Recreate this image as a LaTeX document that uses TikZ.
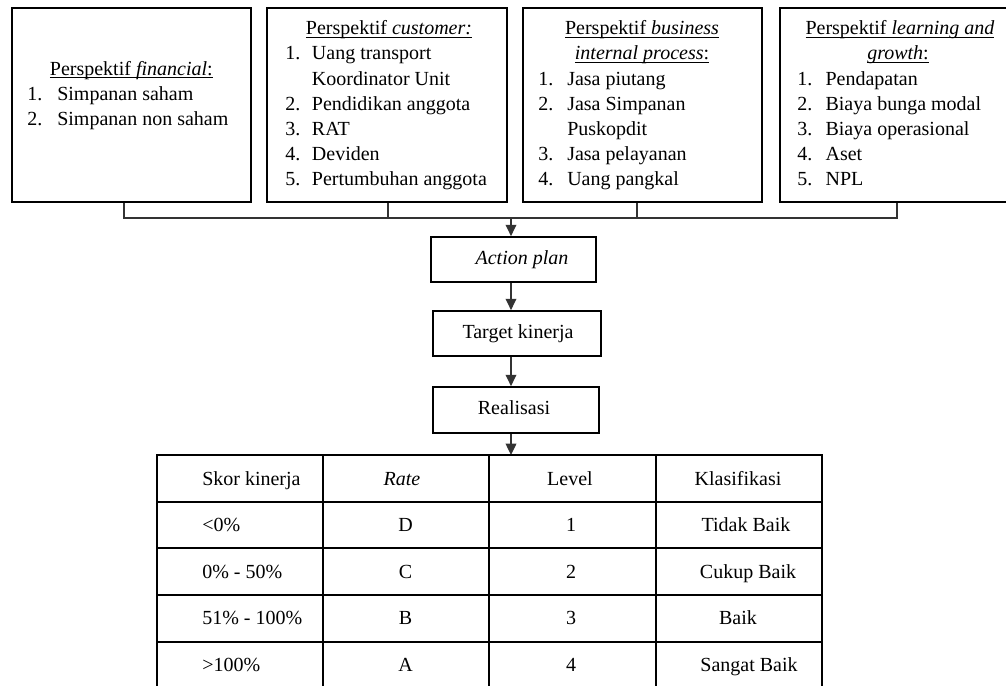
\documentclass[tikz,border=0pt]{standalone}
\usepackage{fontspec}
\setmainfont{Liberation Serif}
\usetikzlibrary{arrows.meta}
\newcommand\ulx[1]{\setbox0\hbox{#1}\rlap{\rule[-2pt]{\wd0}{0.8pt}}\box0}
\newcommand\nm[2]{\makebox[#1][l]{#2}}
\begin{document}
\begin{tikzpicture}[x=0.75pt,y=-0.75pt,
  box/.style={draw,line width=1.3pt,inner sep=0pt},
  tx/.style={inner sep=0pt,font=\fontsize{15}{18.75}\selectfont},
  lt/.style={tx,anchor=base west},
  ct/.style={tx,anchor=base},
  conn/.style={line width=1pt,draw=black!80},
  arr/.style={conn,-{Triangle[width=8pt,length=8.5pt]}},
  tab/.style={line width=1.8pt}]
\clip (0,0) rectangle (1006,685);
\useasboundingbox (0,0) rectangle (1006,685);

% perspective boxes
\node[box,minimum width=179.25pt,minimum height=145.5pt] (b1) at (131.5,105) {};
\node[box,minimum width=180pt,minimum height=145.5pt] (b2) at (387,105) {};
\node[box,minimum width=179.25pt,minimum height=145.5pt] (b3) at (642.5,105) {};
\node[box,minimum width=175.5pt,minimum height=145.5pt] (b4) at (897,105) {};

% box 1
\node[ct] (t1) at (131.3,75) {\ulx{Perspektif \textit{financial}:}};
\node[lt] (l11) at (27,100) {\nm{22.5pt}{1.}Simpanan saham};
\node[lt] (l12) at (27,125) {\nm{22.5pt}{2.}Simpanan non saham};

% box 2
\node[ct] (t2) at (389,35) {\ulx{Perspektif \textit{customer:}}};
\node[lt] (l21) at (285,60) {\nm{20pt}{1.}Uang transport};
\node[lt] (l22) at (285,85) {\nm{20pt}{}Koordinator Unit};
\node[lt] (l23) at (285,110) {\nm{20pt}{2.}Pendidikan anggota};
\node[lt] (l24) at (285,135) {\nm{20pt}{3.}RAT};
\node[lt] (l25) at (285,160) {\nm{20pt}{4.}Deviden};
\node[lt] (l26) at (285,185) {\nm{20pt}{5.}Pertumbuhan anggota};

% box 3
\node[ct] (t3a) at (642,35) {\ulx{Perspektif \textit{business}}};
\node[ct] (t3b) at (642,60) {\ulx{\textit{internal process}:}};
\node[lt] (l31) at (538,85) {\nm{21.75pt}{1.}Jasa piutang};
\node[lt] (l32) at (538,110) {\nm{21.75pt}{2.}Jasa Simpanan};
\node[lt] (l33) at (538,135) {\nm{21.75pt}{}Puskopdit};
\node[lt] (l34) at (538,160) {\nm{21.75pt}{3.}Jasa pelayanan};
\node[lt] (l35) at (538,185) {\nm{21.75pt}{4.}Uang pangkal};

% box 4
\node[ct] (t4a) at (900,35) {\ulx{Perspektif \textit{learning and}}};
\node[ct] (t4b) at (898,60) {\ulx{\textit{growth}:}};
\node[lt] (l41) at (797,85) {\nm{21.25pt}{1.}Pendapatan};
\node[lt] (l42) at (797,110) {\nm{21.25pt}{2.}Biaya bunga modal};
\node[lt] (l43) at (797,135) {\nm{21.25pt}{3.}Biaya operasional};
\node[lt] (l44) at (797,160) {\nm{21.25pt}{4.}Aset};
\node[lt] (l45) at (797,185) {\nm{21.25pt}{5.}NPL};

% flow boxes
\node[box,minimum width=123.75pt,minimum height=33.75pt] (ap) at (513.5,259.5) {};
\node[ct] (apt) at (522,264.7) {\textit{Action plan}};
\node[box,minimum width=126pt,minimum height=33.75pt] (tk) at (517,333.5) {};
\node[ct] (tkt) at (518,338) {Target kinerja};
\node[box,minimum width=124.5pt,minimum height=34.5pt] (re) at (516,410) {};
\node[ct] (ret) at (514,414.7) {Realisasi};

% connectors
\coordinate (s1) at (124,0);
\coordinate (s2) at (388,0);
\coordinate (s3) at (637,0);
\coordinate (s4) at (897,0);
\coordinate (j) at (511,218);
\coordinate (tbl) at (511,455);
\draw[conn] (s1 |- b1.south) |- (j) -| (s4 |- b4.south);
\draw[conn] (s2 |- b2.south) -- (s2 |- j);
\draw[conn] (s3 |- b3.south) -- (s3 |- j);
\draw[arr] (j) -- (j |- ap.north);
\draw[arr] (j |- ap.south) -- (j |- tk.north);
\draw[arr] (j |- tk.south) -- (j |- re.north);
\draw[arr] (j |- re.south) -- (tbl);

% table
\draw[tab] (157,690) -- (157,455) -- (822,455) -- (822,690);
\foreach \y in {502,548,595,642} \draw[tab] (157,\y) -- (822,\y);
\foreach \x in {323,489,656} \draw[tab] (\x,455) -- (\x,690);

\node[lt] (h1) at (202,485) {Skor kinerja};
\node[ct] (h2) at (402,485) {\textit{Rate}};
\node[ct] (h3) at (570,485) {Level};
\node[ct] (h4) at (738,485) {Klasifikasi};

\node[lt] (r11) at (202,531.5) {<0\%};
\node[ct] (r12) at (405.5,531.5) {D};
\node[ct] (r13) at (571,531.5) {1};
\node[ct] (r14) at (746,531.5) {Tidak Baik};

\node[lt] (r21) at (202,578) {0\% - 50\%};
\node[ct] (r22) at (405.5,578) {C};
\node[ct] (r23) at (571,578) {2};
\node[ct] (r24) at (748,578) {Cukup Baik};

\node[lt] (r31) at (202,624.5) {51\% - 100\%};
\node[ct] (r32) at (405.5,624.5) {B};
\node[ct] (r33) at (571,624.5) {3};
\node[ct] (r34) at (738,624.5) {Baik};

\node[lt] (r41) at (202,671.5) {>100\%};
\node[ct] (r42) at (405.5,671.5) {A};
\node[ct] (r43) at (571,671.5) {4};
\node[ct] (r44) at (749,671.5) {Sangat Baik};
\end{tikzpicture}
\end{document}
